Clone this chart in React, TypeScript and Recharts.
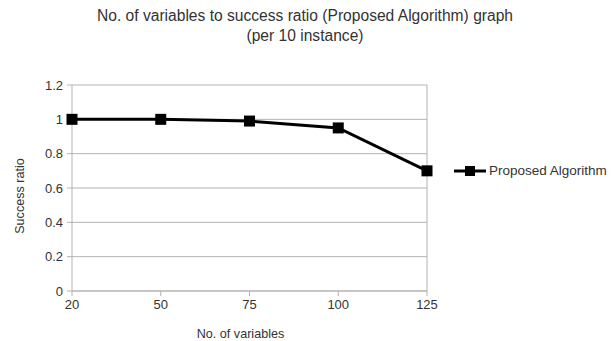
import { LineChart, Line, XAxis, YAxis, CartesianGrid, Legend, ReferenceLine } from 'recharts'

const variableCounts = ['20', '50', '75', '100', '125']
const successRatio = [1, 1, 0.99, 0.95, 0.7]
const yTicks = [0, 0.2, 0.4, 0.6, 0.8, 1, 1.2]

const data = variableCounts.map((name, i) => ({ name, ratio: successRatio[i] }))

const FONT = '"Liberation Sans", Arial, sans-serif'
const GRID = '#b3b3b3'
const TEXT = '#333333'

// vertical legend: line with a square marker, then the series name
function LegendBox({ payload }: any) {
  return (
    <div style={{ width: 185, paddingLeft: 27, boxSizing: 'border-box', fontFamily: FONT }}>
      {(payload || []).map((entry: any) => (
        <div key={entry.value} style={{ display: 'flex', alignItems: 'center', height: 16 }}>
          <svg width={32} height={12} style={{ marginRight: 3 }}>
            <line x1={0} y1={6} x2={32} y2={6} stroke="#000" strokeWidth={3} />
            <rect x={11} y={1} width={10} height={10} fill="#000" />
          </svg>
          <span style={{ fontSize: 13.5, color: TEXT, whiteSpace: 'nowrap' }}>{entry.value}</span>
        </div>
      ))}
    </div>
  )
}

export default function App() {
  return (
    <div style={{ position: 'absolute', left: 0, top: 0, width: 616, height: 341, background: '#fff', fontFamily: FONT }}>
      <div style={{ position: 'absolute', left: 0, top: 6, width: 610, textAlign: 'center', fontSize: 15.6, lineHeight: '20px', color: TEXT }}>
        <div>No. of variables to success ratio (Proposed Algorithm) graph</div>
        <div>(per 10 instance)</div>
      </div>
      <LineChart
        width={616}
        height={341}
        data={data}
        margin={{ top: 85, right: 4, bottom: 0, left: 0 }}
        style={{ position: 'absolute', left: 0, top: 0 }}
      >
        <CartesianGrid vertical={false} stroke={GRID} />
        <ReferenceLine x="125" stroke={GRID} />
        <XAxis
          dataKey="name"
          height={50}
          stroke={GRID}
          tickSize={5}
          tick={{ fill: TEXT, fontSize: 13, fontFamily: FONT }}
          tickMargin={4}
          label={{ value: 'No. of variables', position: 'insideBottom', offset: 3, dx: -9, fill: TEXT, fontSize: 12.6, fontFamily: FONT }}
        />
        <YAxis
          domain={[0, 1.2]}
          ticks={yTicks}
          width={72}
          stroke={GRID}
          tickSize={5}
          tickMargin={4}
          tick={{ fill: TEXT, fontSize: 13, fontFamily: FONT }}
          label={{ value: 'Success ratio', angle: -90, position: 'insideLeft', offset: 20, dy: 8, fill: TEXT, fontSize: 12.6, fontFamily: FONT, style: { textAnchor: 'middle' } }}
        />
        <Legend layout="vertical" align="right" verticalAlign="middle" content={<LegendBox />} />
        <Line
          dataKey="ratio"
          name="Proposed Algorithm"
          stroke="#000"
          strokeWidth={3}
          dot={({ cx, cy, index }: any) => <rect key={index} x={cx - 5.5} y={cy - 5.5} width={11} height={11} fill="#000" />}
          activeDot={false}
          isAnimationActive={false}
        />
      </LineChart>
    </div>
  )
}
